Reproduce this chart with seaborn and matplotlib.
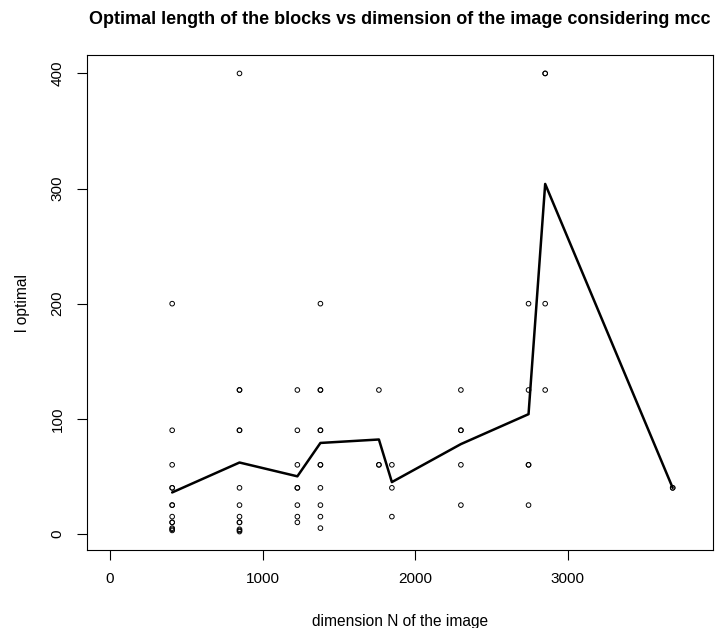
import matplotlib
matplotlib.use("Agg")
import matplotlib.pyplot as plt
import seaborn as sns
import pandas as pd

# Optimal block length observed for each image dimension N
dim_408 = [200, 90, 60, 40, 40, 25, 25, 15, 10, 10, 5, 4, 3]
dim_849 = [400, 125, 125, 90, 90, 40, 25, 15, 10, 10, 4, 3, 2]
dim_1228 = [125, 90, 60, 40, 40, 25, 15, 10]
dim_1379 = [200, 125, 125, 90, 90, 60, 60, 40, 25, 15, 5]
dim_1762 = [125, 60, 60]
dim_1847 = [60, 40, 15]
dim_2299 = [125, 90, 90, 60, 25]
dim_2742 = [200, 125, 60, 60, 25]
dim_2851 = [400, 400, 200, 125]
dim_3686 = [40, 40]

dimensions = [408, 849, 1228, 1379, 1762, 1847, 2299, 2742, 2851, 3686]
groups = [dim_408, dim_849, dim_1228, dim_1379, dim_1762, dim_1847,
          dim_2299, dim_2742, dim_2851, dim_3686]

# Mean optimal length per dimension
mean_l = [36, 62, 50, 79, 82, 45, 78, 104, 304, 40]

x_ticks = [0, 1000, 2000, 3000]
y_ticks = [0, 100, 200, 300, 400]

points = pd.DataFrame({
    "N": [n for n, g in zip(dimensions, groups) for _ in g],
    "l": [v for g in groups for v in g],
})
means = pd.DataFrame({"N": dimensions, "l": mean_l})

sns.set_style("white")
plt.rcParams["font.family"] = ["Liberation Sans", "DejaVu Sans"]
plt.rcParams["text.color"] = "black"
plt.rcParams["axes.labelcolor"] = "black"
plt.rcParams["xtick.color"] = "black"
plt.rcParams["ytick.color"] = "black"

fig = plt.figure(figsize=(7.24, 6.28), dpi=100)
ax = fig.add_axes([0.1197, 0.1242, 0.8655, 0.7882])

sns.scatterplot(data=points, x="N", y="l", ax=ax, marker="o", s=11,
                facecolors="none", edgecolor="black", linewidth=0.7,
                zorder=3)
sns.lineplot(data=means, x="N", y="l", ax=ax, color="black",
             linewidth=1.8, zorder=4)

ax.set_xlim(-152, 3952)
ax.set_ylim(-14, 416)
ax.set_xticks(x_ticks)
ax.set_yticks(y_ticks)
ax.set_xticklabels([str(t) for t in x_ticks], fontsize=11)
ax.set_yticklabels([str(t) for t in y_ticks], fontsize=11, rotation=90,
                   va="center")
ax.tick_params(axis="both", direction="out", length=7, width=0.8,
               color="black", labelcolor="black", pad=9,
               bottom=True, left=True)

for side in ["left", "right", "top", "bottom"]:
    ax.spines[side].set_visible(True)
    ax.spines[side].set_color("black")
    ax.spines[side].set_linewidth(0.8)

ax.set_xlabel("dimension N of the image", fontsize=11.2, labelpad=20)
ax.set_ylabel("l optimal", fontsize=11.2, labelpad=15)
ax.set_title("Optimal length of the blocks vs dimension of the image considering mcc",
             fontsize=13, fontweight="bold", pad=22, color="black")

fig.savefig("out.png", dpi=100)
